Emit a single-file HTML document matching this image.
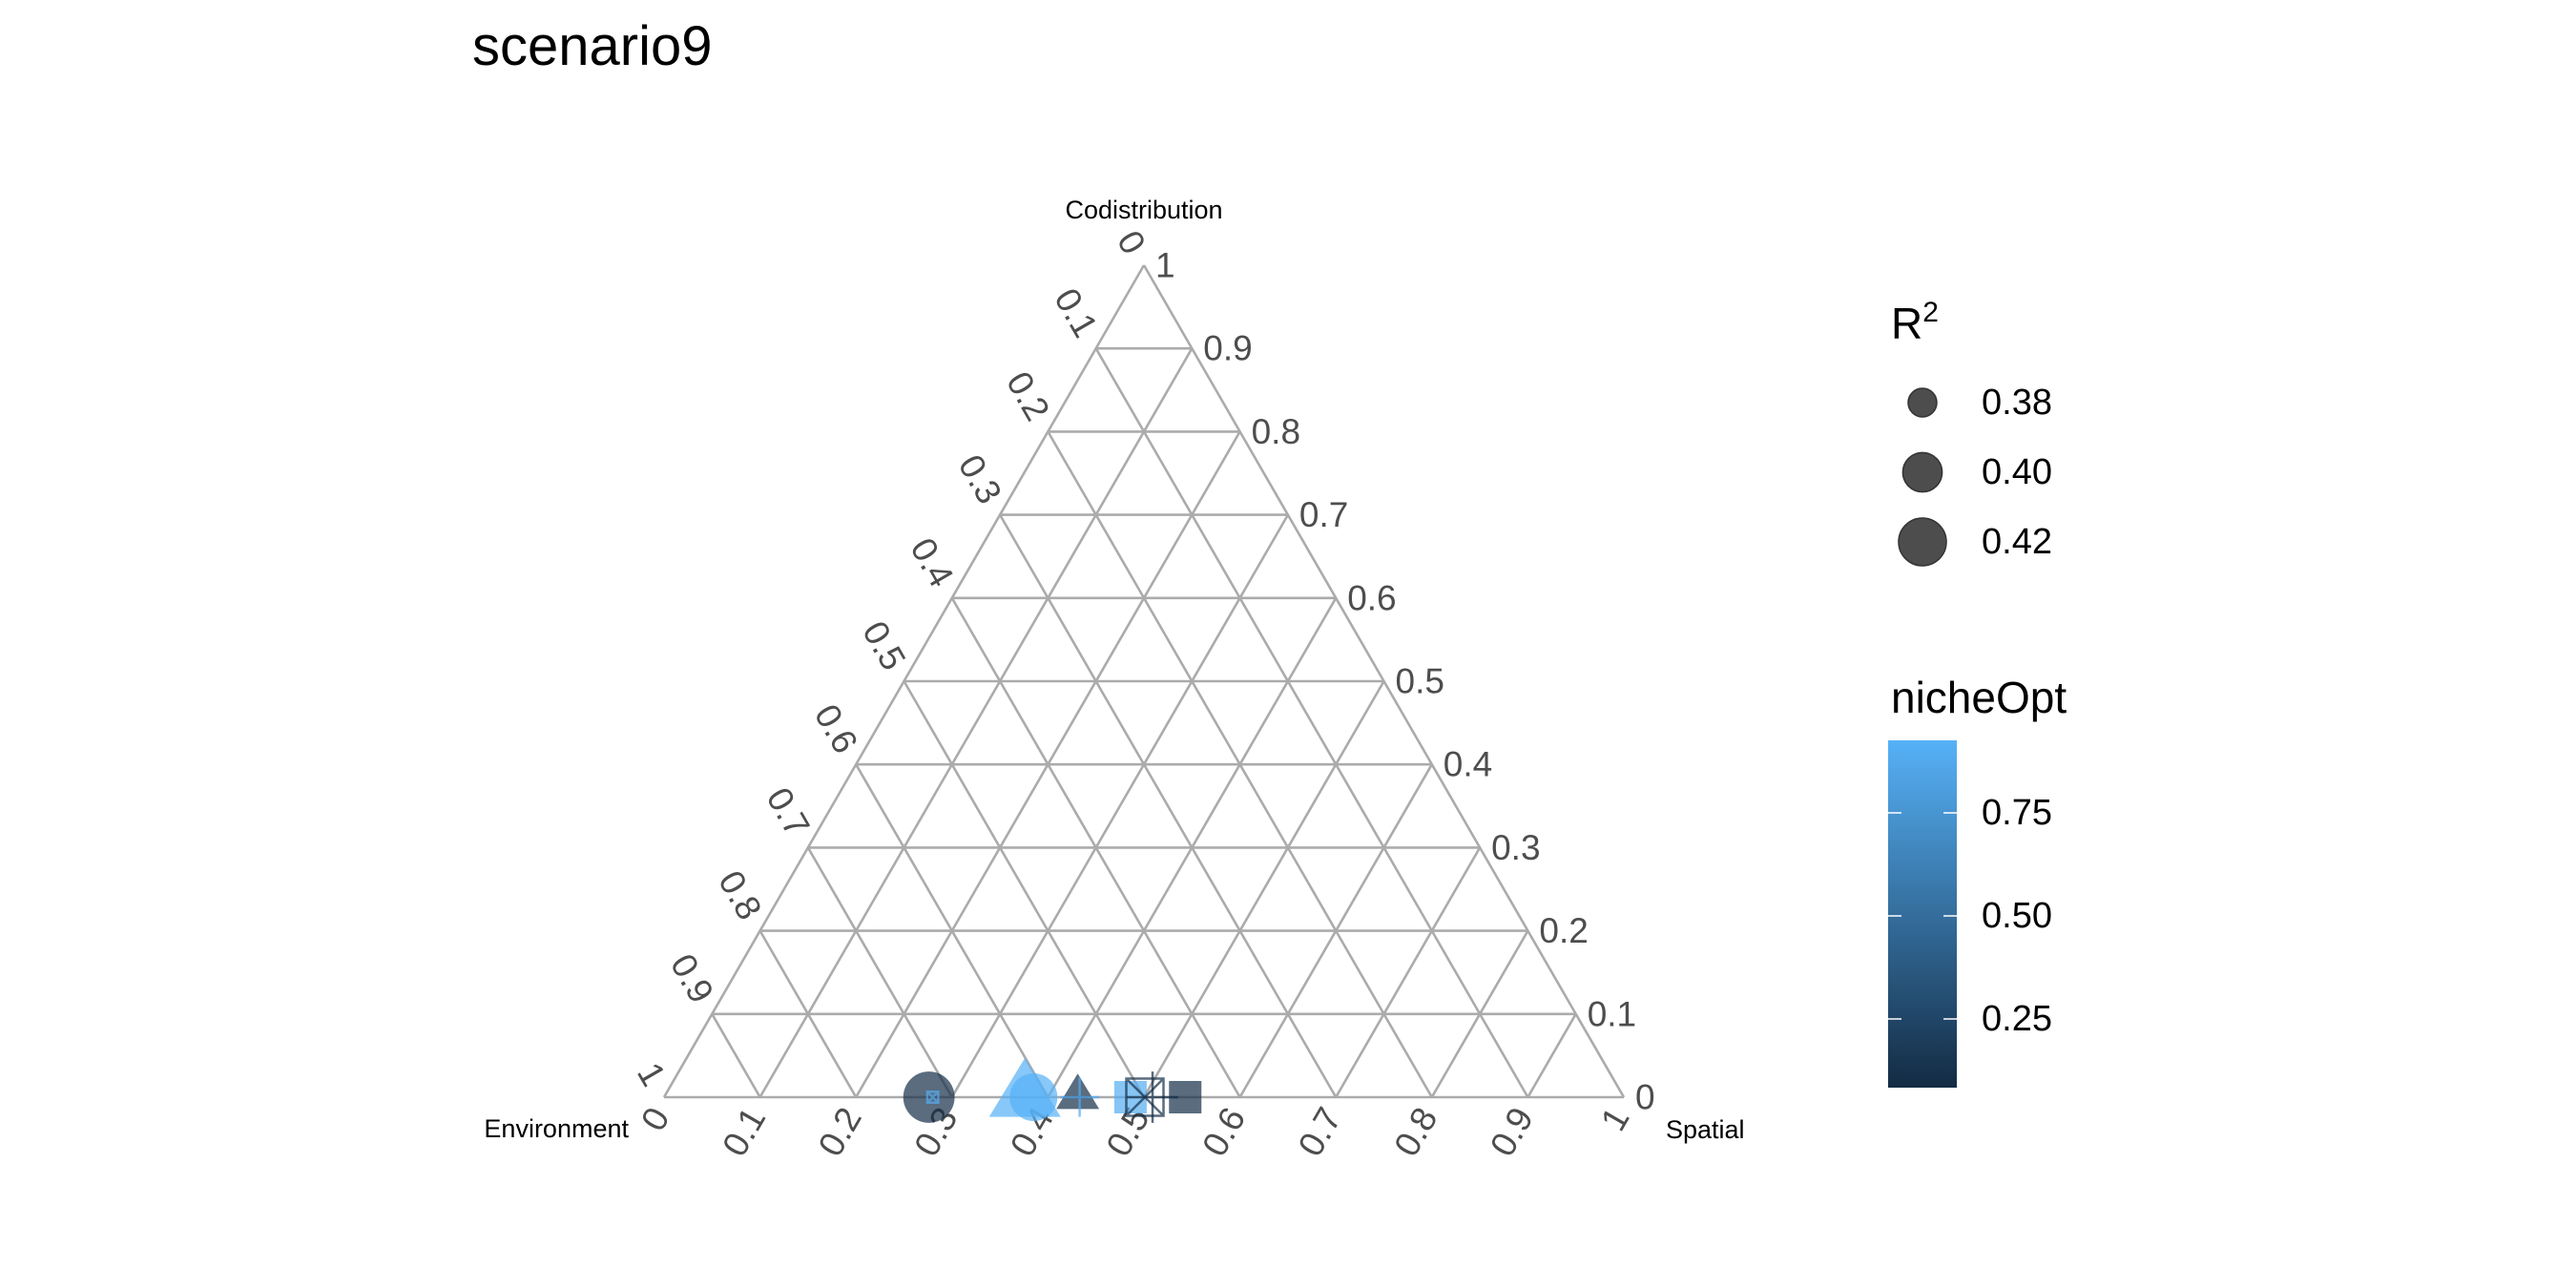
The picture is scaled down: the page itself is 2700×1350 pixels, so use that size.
<!DOCTYPE html>
<html><head><meta charset="utf-8"><style>
html,body{margin:0;padding:0;background:#fff;}
svg{display:block;font-family:"Liberation Sans",Arial,sans-serif;}
</style></head><body>
<svg id="chart" width="2700" height="1350" viewBox="0 0 2700 1350">
<defs><linearGradient id="cbar" x1="0" y1="1" x2="0" y2="0">
<stop offset="0" stop-color="#132B43"/><stop offset="1" stop-color="#56B1F7"/></linearGradient></defs>
<text x="495" y="68" font-size="58" fill="#000">scenario9</text>
<g id="grid"></g>
<g id="labels"></g>
<g id="points"></g>
<text x="1199" y="229" font-size="27" text-anchor="middle" fill="#000">Codistribution</text>
<text x="659" y="1192" font-size="27" text-anchor="end" fill="#000">Environment</text>
<text x="1746" y="1193" font-size="27" fill="#000">Spatial</text>
<g>
<text x="1982" y="355" font-size="46" fill="#000">R<tspan dy="-18" font-size="30">2</tspan></text>
<g id="sizeleg"></g>
</g>
<g>
<text x="1982" y="747" font-size="46" fill="#000">nicheOpt</text>
<rect x="1979" y="776" width="72" height="364" fill="url(#cbar)"/>
<g id="colleg"></g>
</g>
</svg>
<script>
const NS='http://www.w3.org/2000/svg';
// data
const spatial=[0.276,0.376,0.385,0.431,0.433,0.486,0.501,0.509,0.543,0.280];
const codistribution=[0,0,0,0,0,0,0,0,0,0];
const r2=[0.43,0.42,0.42,0.38,0.40,0.405,0.42,0.43,0.405,0.363];
const nicheOpt=[0.1,0.926,0.926,0.1,0.9,0.9,0.1,0.083,0.1,0.9];
const shapes=['circle','triangle','circle','triangle','plus','square','squarecross','plus','square','squarecross'];
const gridTicks=[0,0.1,0.2,0.3,0.4,0.5,0.6,0.7,0.8,0.9,1];
const tickLabels=['0','0.1','0.2','0.3','0.4','0.5','0.6','0.7','0.8','0.9','1'];
const sizeBreaks=[0.38,0.40,0.42];
const sizeLabels=['0.38','0.40','0.42'];
const colorBreaks=[0.25,0.5,0.75];
const colorLabels=['0.25','0.50','0.75'];

const L={x:696,y:1150},R={x:1702,y:1150},T={x:1199,y:278};
function tern(s,c){const e=1-s-c;return {x:e*L.x+s*R.x+c*T.x,y:e*L.y+s*R.y+c*T.y};}
function mk(tag,attrs,parent){const el=document.createElementNS(NS,tag);for(const k in attrs)el.setAttribute(k,attrs[k]);parent.appendChild(el);return el;}
const grid=document.getElementById('grid'),labs=document.getElementById('labels'),pts=document.getElementById('points');
const gs={stroke:'#ababab','stroke-width':2.6,fill:'none'};
gridTicks.forEach((v,i)=>{
  let a=tern(0,v),b=tern(1-v,v);
  let l=mk('line',Object.assign({x1:a.x,y1:a.y,x2:b.x,y2:b.y},gs),grid);
  
  
  a=tern(v,0);b=tern(v,1-v);
  l=mk('line',Object.assign({x1:a.x,y1:a.y,x2:b.x,y2:b.y},gs),grid);
  
  
  a=tern(1-v,0);b=tern(0,1-v);
  l=mk('line',Object.assign({x1:a.x,y1:a.y,x2:b.x,y2:b.y},gs),grid);
  
  
});
const tf={'font-size':37,fill:'#4d4d4d'};
gridTicks.forEach((v,i)=>{
  let p=tern(1-v,v);
  let t=mk('text',Object.assign({x:p.x+12,y:p.y,'dominant-baseline':'central'},tf),labs);
  t.textContent=tickLabels[i];
  
  
  p=tern(0,1-v);
  t=mk('text',Object.assign({'text-anchor':'end','dominant-baseline':'central',transform:`translate(${p.x-8},${p.y-15}) rotate(60)`},tf),labs);
  t.textContent=tickLabels[i];
  
  
  p=tern(v,0);
  t=mk('text',Object.assign({'text-anchor':'end','dominant-baseline':'central',transform:`translate(${p.x-4},${p.y+14}) rotate(-60)`},tf),labs);
  t.textContent=tickLabels[i];
  
  
});
const cmin=Math.min(...nicheOpt),cmax=Math.max(...nicheOpt);
function col(v){const f=(v-cmin)/(cmax-cmin);const a=[0x13,0x2B,0x43],b=[0x56,0xB1,0xF7];return 'rgb('+a.map((x,i)=>Math.round(x+(b[i]-x)*f)).join(',')+')';}
function rad(v){return Math.sqrt(Math.max(20,225+(v-0.38)*10000));}
function drawShape(shape,cx,cy,r,color,parent,alpha){
  let el;
  if(shape==='circle') el=mk('circle',{cx,cy,r,fill:color,'fill-opacity':alpha},parent);
  else if(shape==='triangle'){const h=r*1.5;const ht=h*1.65;el=mk('polygon',{points:`${cx-h},${cy+ht/3} ${cx+h},${cy+ht/3} ${cx},${cy-2*ht/3}`,fill:color,'fill-opacity':alpha},parent);}
  else if(shape==='square'){const h=r*0.78;el=mk('rect',{x:cx-h,y:cy-h,width:2*h,height:2*h,fill:color,'fill-opacity':alpha},parent);}
  else if(shape==='plus'){const h=r;el=mk('path',{d:`M${cx-h},${cy}H${cx+h}M${cx},${cy-h}V${cy+h}`,stroke:color,'stroke-opacity':alpha,'stroke-width':2.5,fill:'none'},parent);}
  else {const h=r*0.78;el=mk('path',{d:`M${cx-h},${cy-h}H${cx+h}V${cy+h}H${cx-h}ZM${cx-h},${cy-h}L${cx+h},${cy+h}M${cx+h},${cy-h}L${cx-h},${cy+h}`,stroke:color,'stroke-opacity':alpha,'stroke-width':2.5,fill:'none'},parent);}
  return el;
}
spatial.forEach((s,i)=>{
  const p=tern(s,codistribution[i]);
  const el=drawShape(shapes[i],p.x,p.y,rad(r2[i]),col(nicheOpt[i]),pts,0.7);
  
  
});
const sl=document.getElementById('sizeleg');
const sy=[422,495,568];
sizeBreaks.forEach((v,i)=>{
  const c=mk('circle',{cx:2015,cy:sy[i],r:rad(v),fill:'#4d4d4d',stroke:'#333','stroke-width':1.5},sl);
  
  
  const t=mk('text',{x:2077,y:sy[i],'font-size':38,'dominant-baseline':'central',fill:'#000'},sl);
  t.textContent=sizeLabels[i];
  
  
});
const cl=document.getElementById('colleg');
function cy(v){return 960-(v-0.5)*432;}
colorBreaks.forEach((v,i)=>{
  const y=cy(v);
  let l=mk('path',{d:`M1979,${y}H1993M2037,${y}H2051`,stroke:'#fff','stroke-width':1.5},cl);
  
  
  const t=mk('text',{x:2077,y:y,'font-size':38,'dominant-baseline':'central',fill:'#000'},cl);
  t.textContent=colorLabels[i];
  
  
});
</script>
</body></html>
